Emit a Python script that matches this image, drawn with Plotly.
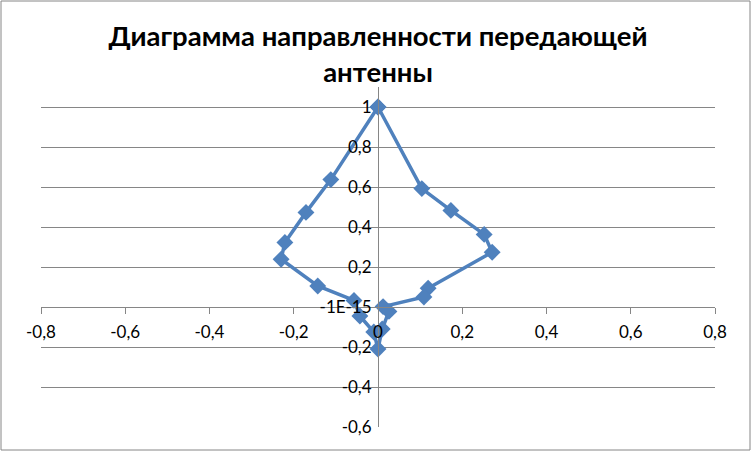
import plotly.graph_objects as go

# Pattern points (x, y) in drawing order, closed at the top
x_vals = [0.0, 0.104, 0.173, 0.252, 0.271, 0.119, 0.109, 0.012, 0.026, 0.010, 0.0,
          -0.010, -0.043, -0.057, -0.143, -0.230, -0.221, -0.171, -0.112, 0.0]
y_vals = [1.0, 0.592, 0.483, 0.363, 0.274, 0.094, 0.050, 0.002, -0.022, -0.110, -0.210,
          -0.125, -0.045, 0.033, 0.105, 0.239, 0.323, 0.473, 0.637, 1.0]

x_tick_vals = [-0.8, -0.6, -0.4, -0.2, 0, 0.2, 0.4, 0.6, 0.8]
x_tick_text = ["-0,8", "-0,6", "-0,4", "-0,2", "0", "0,2", "0,4", "0,6", "0,8"]
y_tick_vals = [-0.6, -0.4, -0.2, 0, 0.2, 0.4, 0.6, 0.8, 1.0]
y_tick_text = ["-0,6", "-0,4", "-0,2", "-1E-15", "0,2", "0,4", "0,6", "0,8", "1"]

title_text = "Диаграмма направленности передающей<br>антенны"

W, H = 752, 452
L, R, T, B = 41, 37, 87, 25
pw, ph = W - L - R, H - T - B
x_range = [-0.8, 0.8]
y_range = [-0.6, 1.1]

BLUE = "#4F81BD"
GRID = "#868686"
FONT = "Lato"

fig = go.Figure()
fig.add_trace(go.Scatter(
    x=x_vals, y=y_vals, mode="lines+markers",
    line=dict(color=BLUE, width=3.5),
    marker=dict(symbol="diamond", size=13, color=BLUE),
    showlegend=False, hoverinfo="x+y",
))

x_pos = (0 - y_range[0]) / (y_range[1] - y_range[0])
y_pos = (0 - x_range[0]) / (x_range[1] - x_range[0])

fig.update_layout(
    width=W, height=H,
    margin=dict(l=L, r=R, t=T, b=B, pad=0),
    paper_bgcolor="white", plot_bgcolor="white",
    title=dict(text=title_text, x=0.5, xanchor="center", xref="paper",
               yref="container", y=1 - 46 / H, yanchor="top",
               font=dict(family=FONT, size=27.5, color="black", weight="bold")),
    font=dict(family=FONT, size=17, color="black"),
    xaxis=dict(range=x_range, tickvals=x_tick_vals, ticktext=x_tick_text,
               showgrid=False, zeroline=False, showline=True, linecolor=GRID, linewidth=1,
               ticks="outside", ticklen=6, tickcolor=GRID, ticklabelstandoff=4,
               anchor="free", position=x_pos, fixedrange=True),
    yaxis=dict(range=y_range, tickvals=y_tick_vals, ticktext=y_tick_text,
               showgrid=True, gridcolor=GRID, gridwidth=1, zeroline=False,
               showline=True, linecolor=GRID, linewidth=1,
               ticks="outside", ticklen=3, tickcolor="rgba(0,0,0,0)",
               anchor="free", position=y_pos, fixedrange=True),
    shapes=[dict(type="rect", xref="paper", yref="paper",
                 x0=(1 - L) / pw, x1=(W - 2 - L) / pw,
                 y0=((H - B) - (H - 2)) / ph, y1=((H - B) - 1) / ph,
                 line=dict(color=GRID, width=1), layer="below")],
)

fig.write_html("out.html", config={"displayModeBar": False},
               post_script="document.body.style.margin='0';")
